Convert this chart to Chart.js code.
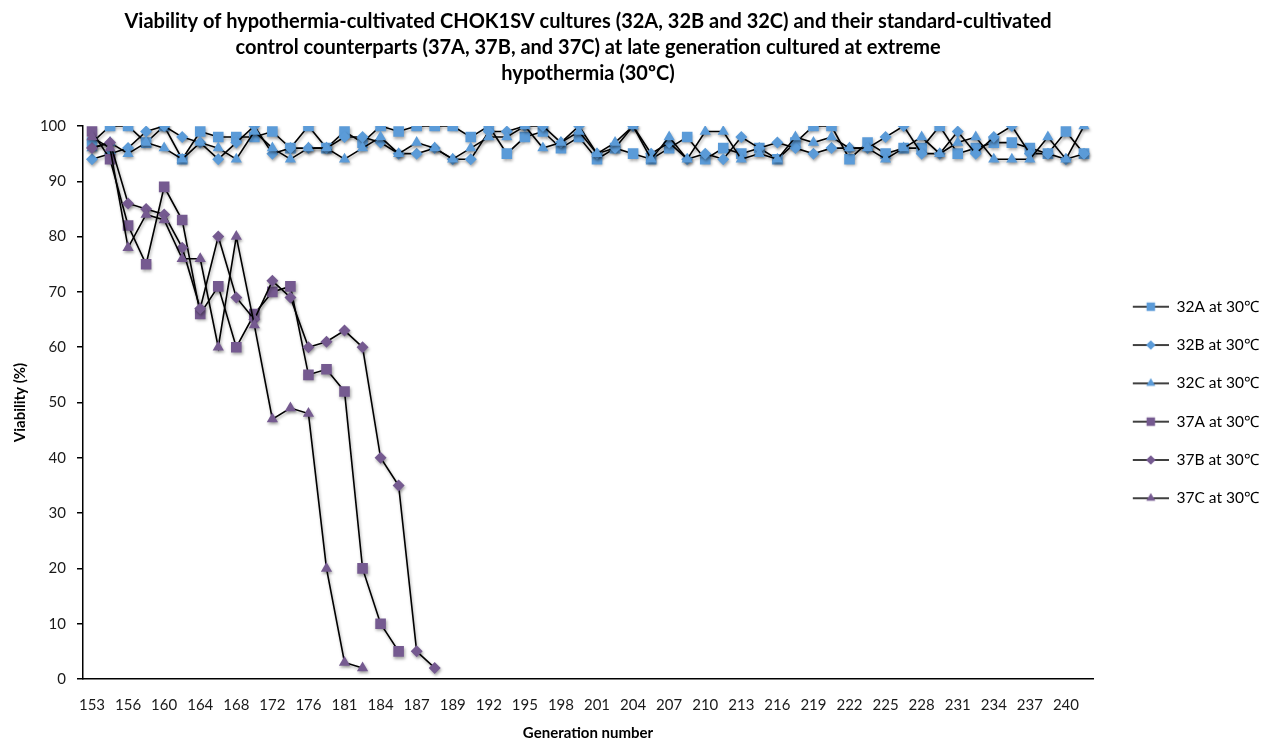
<!DOCTYPE html>
<html>
<head>
<meta charset="utf-8">
<script src="https://cdn.jsdelivr.net/npm/chart.js@4.4.0/dist/chart.umd.min.js"></script>
<style>
html, body { margin: 0; padding: 0; background: #fff; }
#wrap { width: 1264px; height: 742px; }
</style>
</head>
<body>
<div id="wrap"><canvas id="myChart" width="1264" height="742"></canvas></div>
<script>
// generation numbers (every other one is labelled on the axis)
const generations = [153,155,156,158,160,162,164,166,168,170,172,174,176,179,181,182,184,185,187,188,
  189,190,192,193,195,196,198,199,201,202,204,205,207,208,210,211,213,214,216,217,219,220,222,223,
  225,226,228,229,231,232,234,235,237,238,240,241];

// viability (%) per culture
const v32A = [97,100,100,97,100,94,99,98,98,98,99,96,100,96,99,97,100,99,100,100,
  100,98,100,95,98,99,96,98,94,96,95,94,96,98,94,96,95,96,94,97,100,100,94,97,95,96,96,100,95,96,97,97,96,95,99,95];
const v32B = [94,95,96,99,100,98,97,94,97,100,95,96,96,96,98,98,97,95,95,96,
  94,94,99,99,100,100,97,100,95,96,100,95,97,94,95,94,98,96,97,96,95,96,96,96,98,100,95,95,99,95,98,100,95,95,94,95];
const v32C = [96,97,95,97,96,94,97,96,94,99,96,94,96,96,94,96,98,95,97,96,
  94,96,98,98,100,96,97,99,95,97,100,94,98,94,99,99,94,95,94,98,97,98,96,96,94,96,98,95,97,98,94,94,94,98,94,100];
const v37A = [99,94,82,75,89,83,66,71,60,66,70,71,55,56,52,20,10,5];
const v37B = [96,97,86,85,84,78,67,80,69,65,72,69,60,61,63,60,40,35,5,2];
const v37C = [98,96,78,84,83,76,76,60,80,64,47,49,48,20,3,2];

const seriesNames = ['32A at 30\u2103','32B at 30\u2103','32C at 30\u2103','37A at 30\u2103','37B at 30\u2103','37C at 30\u2103'];

const blue = '#5b9bd8';
const purple = '#755a90';
const fontFamily = 'Lato, "Liberation Sans", sans-serif';

// little line + marker pictures for the legend (blank strip on the left keeps a gap to the plot)
function legendMarker(style, color, radius) {
    const c = document.createElement('canvas');
    c.width = 53;
    c.height = 16;
    const g = c.getContext('2d');
    g.strokeStyle = '#000';
    g.lineWidth = 1.5;
    g.beginPath();
    g.moveTo(17, 8);
    g.lineTo(53, 8);
    g.stroke();
    g.fillStyle = color;
    Chart.helpers.drawPoint(g, { pointStyle: style, radius: radius, rotation: 0, borderWidth: 0 }, 35, 8);
    return c;
}

function series(i, data, style, color, radius, order) {
    return {
        label: seriesNames[i],
        data: data,
        order: order,
        pointStyle: style,
        pointRadius: radius,
        pointHoverRadius: radius,
        pointBackgroundColor: color,
        backgroundColor: color,
        pointBorderWidth: 0,
        borderColor: '#000',
        borderWidth: 1.6,
        tension: 0,
        fill: false,
        legendImg: legendMarker(style, color, radius * 0.8)
    };
}

const shadowPlugin = {
    id: 'shadow',
    beforeDatasetsDraw(chart) {
        const ctx = chart.ctx;
        ctx.save();
        ctx.shadowColor = 'rgba(0,0,0,0.35)';
        ctx.shadowBlur = 3;
        ctx.shadowOffsetX = 1;
        ctx.shadowOffsetY = 2;
    },
    afterDatasetsDraw(chart) {
        chart.ctx.restore();
    }
};

const ctx = document.getElementById('myChart').getContext('2d');

const chart = new Chart(ctx, {
    type: 'line',
    data: {
        labels: generations,
        datasets: [
            series(0, v32A, 'rect', blue, 7.5, 6),
            series(1, v32B, 'rectRot', blue, 6, 5),
            series(2, v32C, 'triangle', blue, 6.5, 4),
            series(3, v37A, 'rect', purple, 7.5, 3),
            series(4, v37B, 'rectRot', purple, 6, 2),
            series(5, v37C, 'triangle', purple, 6.5, 1)
        ]
    },
    options: {
        responsive: false,
        animation: false,
        layout: { padding: { left: 0, right: 0, top: 0, bottom: 0 } },
        plugins: {
            tooltip: { enabled: false },
            title: {
                display: true,
                fullSize: false,
                text: [
                    'Viability of hypothermia-cultivated CHOK1SV cultures (32A, 32B and 32C) and their standard-cultivated',
                    'control counterparts (37A, 37B, and 37C) at late generation cultured at extreme',
                    'hypothermia (30\u00baC)'
                ],
                color: '#000',
                font: { family: fontFamily, size: 20, weight: 'bold', lineHeight: 1.3 },
                padding: { top: 9, bottom: 39 }
            },
            legend: {
                position: 'right',
                fullSize: false,
                maxWidth: 171,
                sort: (a, b) => a.datasetIndex - b.datasetIndex,
                labels: {
                    usePointStyle: true,
                    pointStyleWidth: 53,
                    padding: 22.8,
                    color: '#000',
                    font: { family: fontFamily, size: 15.5 },
                    generateLabels(chart) {
                        return chart.data.datasets.map((ds, i) => ({
                            text: ds.label,
                            datasetIndex: i,
                            pointStyle: ds.legendImg,
                            fillStyle: ds.backgroundColor,
                            strokeStyle: '#000',
                            lineWidth: 0,
                            hidden: false,
                            fontColor: '#000'
                        }));
                    }
                }
            }
        },
        scales: {
            x: {
                type: 'category',
                offset: true,
                afterFit(scale) { scale.height = 63; },
                grid: { display: false },
                border: { color: '#000', width: 1.5 },
                ticks: {
                    autoSkip: false,
                    maxRotation: 0,
                    color: '#1a1a1a',
                    padding: 9,
                    font: { family: fontFamily, size: 15 },
                    callback: function(value, index) {
                        return index % 2 === 0 ? this.getLabelForValue(value) : '';
                    }
                },
                title: {
                    display: true,
                    text: 'Generation number',
                    color: '#000',
                    font: { family: fontFamily, size: 15, weight: 'bold' },
                    padding: { top: 0, bottom: 0 }
                }
            },
            y: {
                min: 0,
                max: 100,
                afterFit(scale) { scale.width = 83; },
                grid: { drawOnChartArea: false, drawTicks: true, tickLength: 6, color: '#000', lineWidth: 1.5 },
                border: { color: '#000', width: 1.5 },
                ticks: {
                    stepSize: 10,
                    color: '#1a1a1a',
                    padding: 11,
                    font: { family: fontFamily, size: 15 }
                },
                title: {
                    display: true,
                    text: 'Viability (%)',
                    color: '#000',
                    font: { family: fontFamily, size: 15, weight: 'bold' },
                    padding: { top: 11, bottom: 0 }
                }
            }
        }
    },
    plugins: [shadowPlugin]
});
</script>
</body>
</html>
